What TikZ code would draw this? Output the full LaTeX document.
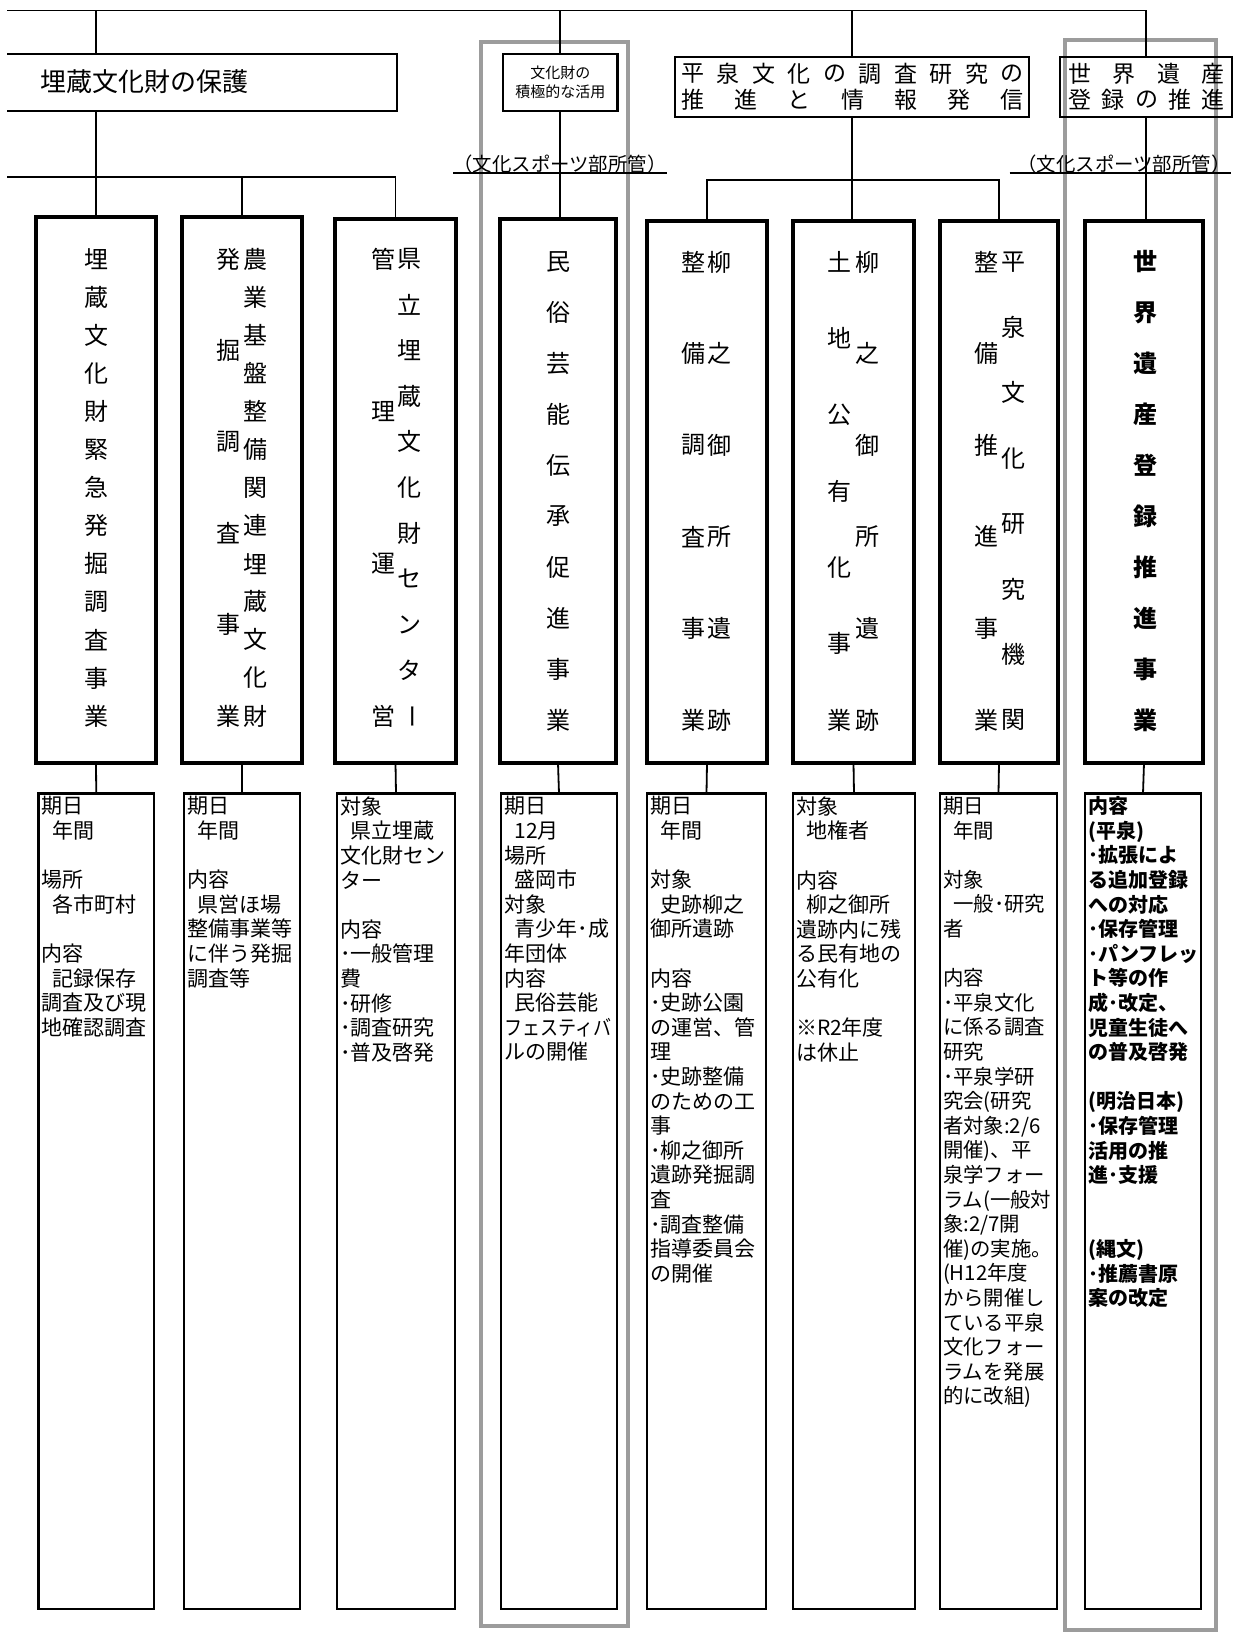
\documentclass[tikz,border=0pt]{standalone}
\usepackage{fontspec}
\setmainfont{Noto Sans CJK JP}
\usetikzlibrary{fit}

% indent inside the detail boxes
\newcommand{\ind}{\hspace*{0.5em}}

% vertical column of characters: name, x, y of first, y of last, count, characters
\newcommand{\vcol}[6]{%
    \foreach \ch [count=\k] in {#6}
        \node[vchar] (#1-\k) at (#2, {#3+(\k-1)*(#4-#3)/(#5-1)}) {\ch};}

% spaced-out row of characters: name, y, x of first, x of last, count, characters
\newcommand{\hrow}[6]{%
    \foreach \ch [count=\k] in {#6}
        \node[hchar] (#1-\k) at ({#3+(\k-1)*(#4-#3)/(#5-1)}, #2) {\ch};}

\begin{document}
\begin{tikzpicture}[x=0.5pt, y=-0.5pt,
    every node/.style={inner sep=0pt, outer sep=0pt},
    conn/.style={line width=0.9pt},
    headbox/.style={draw, line width=1pt},
    progbox/.style={draw, line width=2pt},
    infobox/.style={draw, line width=1.1pt},
    shadebox/.style={draw=shadeGrey, line width=2.4pt},
    vchar/.style={font=\fontsize{12}{12}\selectfont},
    hchar/.style={font=\fontsize{11.5}{11.5}\selectfont},
    infotext/.style={anchor=north west, align=left, font=\fontsize{10.5}{12.3}\selectfont},
    note/.style={font=\fontsize{9.7}{9.7}\selectfont}]

    % Define colours
    \definecolor{shadeGrey}{HTML}{9C9C9C}

    % Page size, the scan is cut at the left edge
    \useasboundingbox (0,0) rectangle (1235,1633);
    \clip (7,0) rectangle (1235,1633);

    % Grey frames
    \node[shadebox, fit={(481,42) (628,1626)}] (shadeA) {};
    \node[shadebox, fit={(1065,40) (1216,1630)}] (shadeB) {};

    % Heading boxes
    \node[headbox, fit={(-10,54) (397,111)}] (hogo) {};
    \node[anchor=west, font=\fontsize{13}{13}\selectfont] (hogoText) at (40,82) {埋蔵文化財の保護};

    \node[headbox, line width=1.2pt, fit={(503,54) (617.5,111)}] (katsuyo) {};
    \node[align=center, font=\fontsize{7.5}{9.5}\selectfont] (katsuyoText) at (katsuyo.center) {文化財の\\積極的な活用};

    \node[headbox, line width=1.4pt, fit={(675,57) (1029,117)}] (hiraizumi) {};
    \hrow{hiraA}{74}{693}{1012}{10}{平,泉,文,化,の,調,査,研,究,の}
    \hrow{hiraB}{100}{693}{1012}{7}{推,進,と,情,報,発,信}

    \node[headbox, line width=1.4pt, fit={(1060,57) (1232,117)}] (isanT) {};
    \hrow{isanA}{74}{1080}{1213}{4}{世,界,遺,産}
    \hrow{isanB}{100}{1080}{1213}{5}{登,録,の,推,進}

    % Department notes
    \node[note] (noteA) at (560,164) {（文化スポーツ部所管）};
    \node[note] (noteB) at (1124,164) {（文化スポーツ部所管）};
    \draw[conn] (noteA.south west) -- (noteA.south east);
    \draw[conn] ([xshift=-4pt]noteB.south west) -- (noteB.south east);

    % Project boxes
    \node[progbox, fit={(36,217) (156,763)}] (c1) {};
    \node[progbox, fit={(182,217) (302,763)}] (c2) {};
    \node[progbox, fit={(335,219) (456,763)}] (c3) {};
    \node[progbox, fit={(500,219) (616,763)}] (c4) {};
    \node[progbox, fit={(647,221) (767,763)}] (c5) {};
    \node[progbox, fit={(793,221) (914,763)}] (c6) {};
    \node[progbox, fit={(940,221) (1058,763)}] (c7) {};
    \node[progbox, fit={(1085,221) (1203,763)}] (c8) {};

    % Project names, read top to bottom, right column first
    \vcol{c1r}{96}{259}{716}{13}{埋,蔵,文,化,財,緊,急,発,掘,調,査,事,業}
    \vcol{c2r}{255}{259}{716}{13}{農,業,基,盤,整,備,関,連,埋,蔵,文,化,財}
    \vcol{c2l}{228}{259}{716}{6}{発,掘,調,査,事,業}
    \vcol{c3r}{409}{259}{716}{11}{県,立,埋,蔵,文,化,財,セ,ン,タ,\rotatebox{-90}{ー}}
    \vcol{c3l}{383}{259}{716}{4}{管,理,運,営}
    \vcol{c4}{558}{262}{720}{10}{民,俗,芸,能,伝,承,促,進,事,業}
    \vcol{c5r}{719}{262}{720}{6}{柳,之,御,所,遺,跡}
    \vcol{c5l}{693}{262}{720}{6}{整,備,調,査,事,業}
    \vcol{c6r}{867}{262}{720}{6}{柳,之,御,所,遺,跡}
    \vcol{c6l}{839}{262}{720}{7}{土,地,公,有,化,事,業}
    \vcol{c7r}{1013}{262}{720}{8}{平,泉,文,化,研,究,機,関}
    \vcol{c7l}{986}{262}{720}{6}{整,備,推,進,事,業}
    \begin{scope}[vchar/.append style={font=\fontsize{12}{12}\selectfont\bfseries}]
        \vcol{c8}{1145}{262}{720}{10}{世,界,遺,産,登,録,推,進,事,業}
    \end{scope}

    % Detail boxes
    \node[infobox, fit={(38.5,793.5) (154,1609)}] (d1) {};
    \node[infobox, fit={(184,793.5) (300,1609)}] (d2) {};
    \node[infobox, fit={(337,793.5) (455,1609)}] (d3) {};
    \node[infobox, fit={(501,793.5) (617,1609)}] (d4) {};
    \node[infobox, fit={(647,793.5) (766,1609)}] (d5) {};
    \node[infobox, fit={(793,793.5) (915,1609)}] (d6) {};
    \node[infobox, fit={(940,793.5) (1057,1609)}] (d7) {};
    \node[infobox, fit={(1085,793.5) (1201,1609)}] (d8) {};

    % Detail texts
    \node[infotext] (t1) at ([shift={(3,3)}]d1.north west)
        {期日\\\ind{}年間\\\mbox{}\\場所\\\ind{}各市町村\\\mbox{}\\内容\\\ind{}記録保存\\調査及び現\\地確認調査};
    \node[infotext] (t2) at ([shift={(3,3)}]d2.north west)
        {期日\\\ind{}年間\\\mbox{}\\内容\\\ind{}県営ほ場\\整備事業等\\に伴う発掘\\調査等};
    \node[infotext] (t3) at ([shift={(3,3)}]d3.north west)
        {対象\\\ind{}県立埋蔵\\文化財セン\\ター\\\mbox{}\\内容\\･一般管理\\費\\･研修\\･調査研究\\･普及啓発};
    \node[infotext] (t4) at ([shift={(3,3)}]d4.north west)
        {期日\\\ind{}12月\\場所\\\ind{}盛岡市\\対象\\\ind{}青少年･成\\年団体\\内容\\\ind{}民俗芸能\\\scalebox{0.86}[1]{フェスティバ}\\ルの開催};
    \node[infotext] (t5) at ([shift={(3,3)}]d5.north west)
        {期日\\\ind{}年間\\\mbox{}\\対象\\\ind{}史跡柳之\\御所遺跡\\\mbox{}\\内容\\･史跡公園\\の運営、管\\理\\･史跡整備\\のための工\\事\\･柳之御所\\遺跡発掘調\\査\\･調査整備\\指導委員会\\の開催};
    \node[infotext] (t6) at ([shift={(3,3)}]d6.north west)
        {対象\\\ind{}地権者\\\mbox{}\\内容\\\ind{}柳之御所\\遺跡内に残\\る民有地の\\公有化\\\mbox{}\\※R2年度\\は休止};
    \node[infotext, font=\fontsize{10.2}{12.3}\selectfont] (t7) at ([shift={(3,3)}]d7.north west)
        {期日\\\ind{}年間\\\mbox{}\\対象\\\ind{}一般･研究\\者\\\mbox{}\\内容\\･平泉文化\\に係る調査\\研究\\･平泉学研\\究会(研究\\者対象:2/6\\開催)、平\\泉学フォー\\ラム(一般対\\象:2/7開\\催)の実施。\\(H12年度\\から開催し\\ている平泉\\文化フォー\\ラムを発展\\的に改組)};
    \node[infotext, font=\fontsize{10}{12.3}\selectfont\bfseries] (t8) at ([shift={(3,3)}]d8.north west)
        {内容\\(平泉)\\･拡張によ\\る追加登録\\への対応\\･保存管理\\･パンフレッ\\ト等の作\\成･改定、\\児童生徒へ\\の普及啓発\\\mbox{}\\(明治日本)\\･保存管理\\活用の推\\進･支援\\\mbox{}\\\mbox{}\\(縄文)\\･推薦書原\\案の改定};

    % Connectors
    \coordinate (busTop) at (7,10.4);
    \coordinate (busLeft) at (7,177);
    \draw[conn] (busTop) -| (isanT.north);
    \draw[conn] (c1.north |- busTop) -- (c1.north |- hogo.north);
    \draw[conn] (katsuyo.north |- busTop) -- (katsuyo.north);
    \draw[conn] (hiraizumi.north |- busTop) -- (hiraizumi.north);
    \draw[conn] (c1.north |- hogo.south) -- (c1.north);
    \draw[conn] (busLeft) -| (c3.north);
    \draw[conn] (c2.north |- busLeft) -- (c2.north);
    \draw[conn] (katsuyo.south) -- (katsuyo.south |- c4.north);
    \draw[conn] (hiraizumi.south) -- (hiraizumi.south |- c6.north);
    \draw[conn] (c5.north) -- ++(0,-41) -| (c7.north);
    \draw[conn] (isanT.south) -- (isanT.south |- c8.north);
    \foreach \i in {1,...,8}
        \draw[conn] (c\i.south) -- (d\i.north);

\end{tikzpicture}
\end{document}
